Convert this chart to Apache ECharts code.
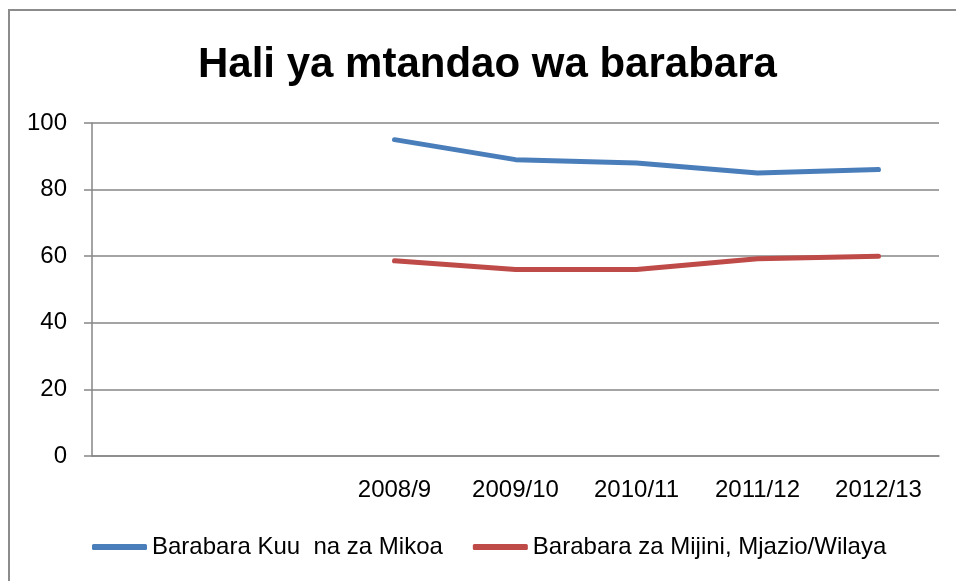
<!DOCTYPE html>
<html>
<head>
<meta charset="utf-8">
<script src="https://cdn.jsdelivr.net/npm/echarts@6/dist/echarts.min.js"></script>
<style>
  html, body { margin: 0; padding: 0; background: #fff; }
  #chart { width: 956px; height: 581px; }
</style>
</head>
<body>
<div id="chart"></div>
<script>
// miaka (first two slots are empty in the original)
const categories = ['', '', '2008/9', '2009/10', '2010/11', '2011/12', '2012/13'];
const kuuMikoa = [null, null, 95, 89, 88, 85, 86];
const mijiniWilaya = [null, null, 58.6, 56, 56, 59.2, 60];
const yTicks = [0, 20, 40, 60, 80, 100];

const chart = echarts.init(document.getElementById('chart'));
const font = "'Liberation Sans', sans-serif";

chart.setOption({
  animation: false,
  title: {
    text: 'Hali ya mtandao wa barabara',
    left: 193,
    top: 39,
    textStyle: { fontFamily: font, fontSize: 42, fontWeight: 'bold', color: '#000' }
  },
  graphic: [{
    type: 'rect',
    shape: { x: 9, y: 10, width: 980, height: 620 },
    style: { fill: null, stroke: '#8c8c8c', lineWidth: 2 }
  }],
  grid: { left: 92, right: 17, top: 123, bottom: 125, containLabel: false },
  legend: {
    top: 535,
    left: 92,
    padding: 0,
    itemWidth: 55,
    itemHeight: 6,
    itemGap: 30,
    icon: 'roundRect',
    textStyle: { fontFamily: font, fontSize: 24, color: '#000' },
    data: ['Barabara Kuu  na za Mikoa', 'Barabara za Mijini, Mjazio/Wilaya']
  },
  xAxis: {
    type: 'category',
    data: categories,
    boundaryGap: true,
    axisLine: { lineStyle: { color: '#868686', width: 1.5 } },
    axisTick: { length: 7, lineStyle: { color: '#868686', width: 1.5 } },
    axisLabel: { fontFamily: font, fontSize: 24, color: '#000', margin: 22 }
  },
  yAxis: {
    type: 'value',
    min: yTicks[0],
    max: yTicks[yTicks.length - 1],
    interval: 20,
    axisLine: { show: true, lineStyle: { color: '#868686', width: 1.5 } },
    axisTick: { show: true, length: 8, lineStyle: { color: '#868686', width: 1.5 } },
    axisLabel: { fontFamily: font, fontSize: 24, color: '#000', margin: 25 },
    splitLine: { lineStyle: { color: '#868686', width: 1.5 } }
  },
  series: [
    {
      name: 'Barabara Kuu  na za Mikoa',
      type: 'line',
      data: kuuMikoa,
      showSymbol: false,
      symbol: 'none',
      color: '#4a7ebb',
      lineStyle: { width: 5, color: '#4a7ebb', cap: 'round', join: 'round' }
    },
    {
      name: 'Barabara za Mijini, Mjazio/Wilaya',
      type: 'line',
      data: mijiniWilaya,
      showSymbol: false,
      symbol: 'none',
      color: '#be4b48',
      lineStyle: { width: 5, color: '#be4b48', cap: 'round', join: 'round' }
    }
  ]
});
</script>
</body>
</html>
